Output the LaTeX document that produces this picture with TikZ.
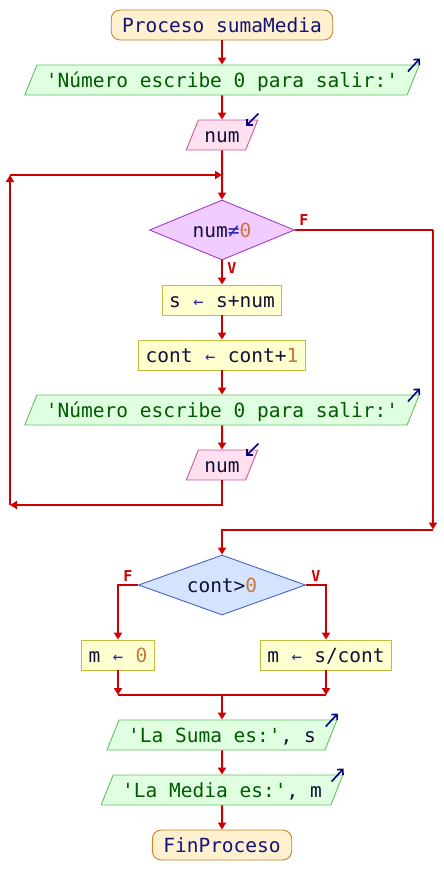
\documentclass[tikz,border=0pt]{standalone}
\usepackage{fontspec}
\setmonofont{DejaVu Sans Mono}
\usetikzlibrary{shapes.geometric,arrows.meta}
\definecolor{flowred}{RGB}{204,0,0}
\definecolor{ink}{RGB}{16,16,56}
\definecolor{kwink}{RGB}{20,20,120}
\definecolor{strink}{RGB}{0,90,0}
\definecolor{numink}{RGB}{200,120,60}
\definecolor{opink}{RGB}{40,40,170}
\definecolor{iconblue}{RGB}{0,0,128}
\definecolor{termfill}{RGB}{255,240,208}
\definecolor{termdraw}{RGB}{200,130,40}
\definecolor{outfill}{RGB}{224,255,224}
\definecolor{outdraw}{RGB}{100,190,100}
\definecolor{infill}{RGB}{255,224,240}
\definecolor{indraw}{RGB}{200,90,150}
\definecolor{asgfill}{RGB}{255,255,208}
\definecolor{asgdraw}{RGB}{190,190,60}
\definecolor{whilefill}{RGB}{240,204,255}
\definecolor{whiledraw}{RGB}{160,60,200}
\definecolor{iffill}{RGB}{212,228,255}
\definecolor{ifdraw}{RGB}{70,100,200}
\newcommand{\asg}{\makebox[11.74pt]{\color{opink}\fontsize{17}{17}\selectfont ←}}
\newcommand{\pstr}[1]{\textcolor{strink}{#1}}
\newcommand{\pnum}[1]{\textcolor{numink}{#1}}
\begin{document}
\begin{tikzpicture}[x=1pt,y=-1pt,
		>={Triangle[length=7pt,width=8pt]},
		flow/.style={draw=flowred,line width=2pt},
		block/.style={font=\ttfamily\fontsize{19.5}{20}\selectfont,text=ink,text height=14pt,text depth=0pt,inner ysep=8pt,line width=0.9pt},
		terminal/.style={block,rectangle,rounded corners=9pt,fill=termfill,draw=termdraw,inner xsep=11pt,text=kwink},
		output/.style={block,trapezium,trapezium left angle=68,trapezium right angle=112,fill=outfill,draw=outdraw,inner xsep=9pt},
		input/.style={output,fill=infill,draw=indraw,inner xsep=6pt},
		assign/.style={block,rectangle,fill=asgfill,draw=asgdraw,inner xsep=7pt},
		decision/.style={block,diamond,inner sep=0pt,minimum height=60pt},
		branch/.style={font=\ttfamily\bfseries\fontsize{15}{15}\selectfont,text=flowred,inner sep=0pt},
		writeicon/.style={draw=iconblue,line width=1.6pt,-{Straight Barb[length=4pt,width=8pt]}}
	]
	\useasboundingbox (0,0) rectangle (444,895);
	\node[terminal] (start) at (222,25) {Proceso sumaMedia};
	\node[output] (out1) at (222,80) {\pstr{'Número escribe 0 para salir:'}};
	\node[input] (in1) at (222,135) {num};
	\node[decision,fill=whilefill,draw=whiledraw,minimum width=145pt,aspect=2.4] (while) at (222,230) {num\textcolor{opink}{≠}\pnum{0}};
	\node[assign] (sumup) at (222,300) {s \asg{} s+num};
	\node[assign] (count) at (222,355) {cont \asg{} cont+\pnum{1}};
	\node[output] (out2) at (222,410) {\pstr{'Número escribe 0 para salir:'}};
	\node[input] (in2) at (222,465) {num};
	\node[decision,fill=iffill,draw=ifdraw,minimum width=167pt,aspect=2.8] (if) at (222,585) {cont>\pnum{0}};
	\node[assign] (setzero) at (118,655) {m \asg{} \pnum{0}};
	\node[assign] (setmean) at (326,655) {m \asg{} s/cont};
	\node[output] (out3) at (222,735) {\pstr{'La Suma es:'}, s};
	\node[output] (out4) at (222,790) {\pstr{'La Media es:'}, m};
	\node[terminal] (finish) at (222,845) {FinProceso};
	\node[branch] (whilef) at (304,220) {F};
	\node[branch] (whilev) at (232,268) {V};
	\node[branch] (iff) at (128,576) {F};
	\node[branch] (ifv) at (316,576) {V};
	\coordinate (loopbl) at (10,505);
	\coordinate (looptl) at (10,175);
	\coordinate (loopin) at (222,175);
	\coordinate (exitr) at (433,230);
	\coordinate (exitb) at (433,529.5);
	\coordinate (joinl) at (118,695);
	\coordinate (joinr) at (326,695);
	\coordinate (joinc) at (222,695);
	\draw[flow,->] (start) -- (out1);
	\draw[flow,->] (out1) -- (in1);
	\draw[flow,->] (in1) -- (while);
	\draw[flow,->] (while) -- (sumup);
	\draw[flow,->] (sumup) -- (count);
	\draw[flow,->] (count) -- (out2);
	\draw[flow,->] (out2) -- (in2);
	\draw[flow,->] (in2) |- (loopbl);
	\draw[flow,->] (loopbl) -- (looptl);
	\draw[flow,->] (looptl) -- (loopin);
	\draw[flow] (while.east) -- (exitr);
	\draw[flow,->] (exitr) -- (exitb);
	\draw[flow,->] (exitb) -| (if.north);
	\draw[flow,->] (if.west) -| (setzero);
	\draw[flow,->] (if.east) -| (setmean);
	\draw[flow,->] (setzero) -- (joinl);
	\draw[flow,->] (setmean) -- (joinr);
	\draw[flow] (joinl) -- (joinr);
	\draw[flow,->] (joinc) -- (out3);
	\draw[flow,->] (out3) -- (out4);
	\draw[flow,->] (out4) -- (finish);
	\foreach \n in {out1,out2,out3,out4}
		\draw[writeicon] ([shift={(-12,7)}]\n.top right corner) -- ([shift={(0,-6)}]\n.top right corner);
	\foreach \n in {in1,in2}
		\draw[writeicon] ([shift={(0,-6)}]\n.top right corner) -- ([shift={(-12,6)}]\n.top right corner);
\end{tikzpicture}
\end{document}
